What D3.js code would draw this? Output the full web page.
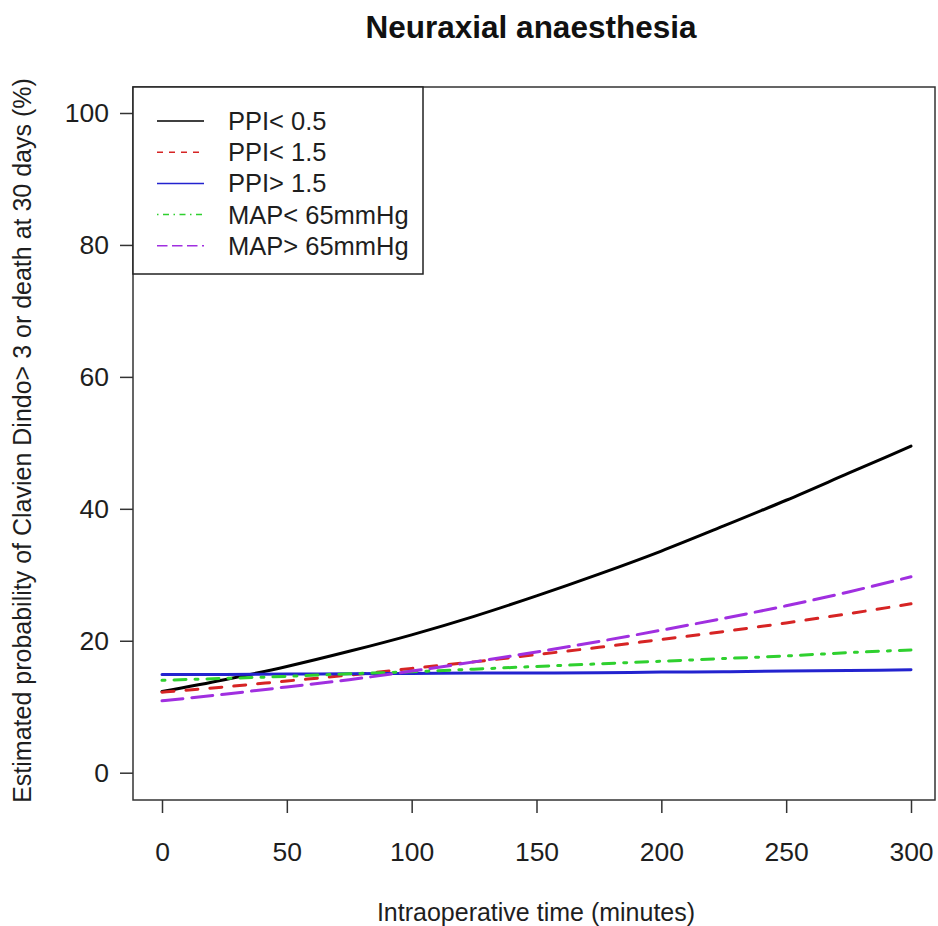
<!DOCTYPE html>
<html lang="en">
<head>
<meta charset="UTF-8">
<title>Neuraxial anaesthesia</title>
<script src="https://d3js.org/d3.v7.min.js"></script>
<style>
    body { margin: 0; background: #fff; }
    svg { display: block; font-family: "Liberation Sans", Arial, sans-serif; }
    .axis text { font-size: 26.5px; fill: #1e1e1e; }
    .axis line, .axis path { stroke: #333; stroke-width: 1.5; }
</style>
</head>
<body>
<div id="chart"></div>
<script>
// minutes of intraoperative time (read every 25 min)
const minutes = [0, 25, 50, 75, 100, 125, 150, 175, 200, 225, 250, 275, 300];

// estimated probability (%) for each group
const ppiLow   = [12.3, 14.1, 16.1, 18.4, 20.9, 23.7, 26.8, 30.1, 33.6, 37.4, 41.3, 45.4, 49.5];
const ppiMid   = [12.2, 13.0, 13.9, 14.8, 15.8, 16.8, 17.9, 19.0, 20.2, 21.4, 22.7, 24.1, 25.6];
const ppiHigh  = [14.9, 14.9, 14.95, 15.0, 15.05, 15.1, 15.1, 15.15, 15.25, 15.3, 15.4, 15.5, 15.6];
const mapLow   = [14.0, 14.3, 14.6, 15.0, 15.3, 15.7, 16.1, 16.5, 16.9, 17.3, 17.7, 18.2, 18.6];
const mapHigh  = [10.9, 11.9, 13.0, 14.1, 15.4, 16.8, 18.3, 19.9, 21.6, 23.4, 25.3, 27.4, 29.7];

const seriesNames = ['PPI< 0.5', 'PPI< 1.5', 'PPI> 1.5', 'MAP< 65mmHg', 'MAP> 65mmHg'];
const xTicks = [0, 50, 100, 150, 200, 250, 300];
const yTicks = [0, 20, 40, 60, 80, 100];

const width = 938, height = 926;
const box = { left: 133, right: 935, top: 87, bottom: 800 };

const series = [
    { name: seriesNames[0], values: ppiLow,  color: '#000000', dash: null,          legendDash: null },
    { name: seriesNames[1], values: ppiMid,  color: '#d62424', dash: '12,12',       legendDash: '6,6' },
    { name: seriesNames[2], values: ppiHigh, color: '#2323cf', dash: null,          legendDash: null },
    { name: seriesNames[3], values: mapLow,  color: '#2fd02f', dash: '3,9,12,9',    legendDash: '1.5,4.5,6,4.5' },
    { name: seriesNames[4], values: mapHigh, color: '#a02fe0', dash: '21,9',        legendDash: '10.5,4.5' }
];

const svg = d3.select('#chart').append('svg')
    .attr('width', width)
    .attr('height', height);

const x = d3.scaleLinear().domain([0, 300]).range([162, 911]);
const y = d3.scaleLinear().domain([0, 100]).range([772.7, 113]);

// title
svg.append('text')
    .attr('x', 531).attr('y', 38)
    .attr('text-anchor', 'middle')
    .attr('font-size', 31.5)
    .attr('font-weight', 'bold')
    .attr('fill', '#111')
    .text('Neuraxial anaesthesia');

// axes
const xAxis = svg.append('g')
    .attr('class', 'axis')
    .attr('transform', `translate(0,${box.bottom})`)
    .call(d3.axisBottom(x).tickValues(xTicks).tickSize(13).tickSizeOuter(0).tickPadding(29));
xAxis.select('.domain').remove();

const yAxis = svg.append('g')
    .attr('class', 'axis')
    .attr('transform', `translate(${box.left},0)`)
    .call(d3.axisLeft(y).tickValues(yTicks).tickSize(13).tickSizeOuter(0).tickPadding(11));
yAxis.select('.domain').remove();

// axis titles
svg.append('text')
    .attr('x', 536).attr('y', 921)
    .attr('text-anchor', 'middle')
    .attr('font-size', 25)
    .attr('fill', '#1e1e1e')
    .text('Intraoperative time (minutes)');

svg.append('text')
    .attr('transform', `translate(31,${(box.top + box.bottom) / 2 - 3}) rotate(-90)`)
    .attr('text-anchor', 'middle')
    .attr('font-size', 25)
    .attr('fill', '#1e1e1e')
    .text('Estimated probability of Clavien Dindo> 3 or death at 30 days (%)');

// curves
const line = d3.line()
    .x((d, i) => x(minutes[i]))
    .y(d => y(d))
    .curve(d3.curveMonotoneX);

svg.append('g')
    .selectAll('path')
    .data(series)
    .join('path')
    .attr('d', d => line(d.values))
    .attr('fill', 'none')
    .attr('stroke', d => d.color)
    .attr('stroke-width', 3)
    .attr('stroke-linecap', 'round')
    .attr('stroke-dasharray', d => d.dash);

// plot frame
svg.append('rect')
    .attr('x', box.left).attr('y', box.top)
    .attr('width', box.right - box.left)
    .attr('height', box.bottom - box.top)
    .attr('fill', 'none')
    .attr('stroke', '#333')
    .attr('stroke-width', 1.5);

// legend
const legend = svg.append('g');
legend.append('rect')
    .attr('x', box.left).attr('y', box.top)
    .attr('width', 290).attr('height', 187)
    .attr('fill', '#fff')
    .attr('stroke', '#222')
    .attr('stroke-width', 1.5);

const rows = legend.selectAll('g.row')
    .data(series)
    .join('g')
    .attr('class', 'row')
    .attr('transform', (d, i) => `translate(0,${121 + i * 31.2})`);

rows.append('line')
    .attr('x1', 157).attr('x2', 204)
    .attr('stroke', d => d.color)
    .attr('stroke-width', 1.5)
    .attr('stroke-dasharray', d => d.legendDash);

rows.append('text')
    .attr('x', 228)
    .attr('dy', '0.35em')
    .attr('font-size', 25.5)
    .attr('fill', '#1e1e1e')
    .text(d => d.name);
</script>
</body>
</html>
